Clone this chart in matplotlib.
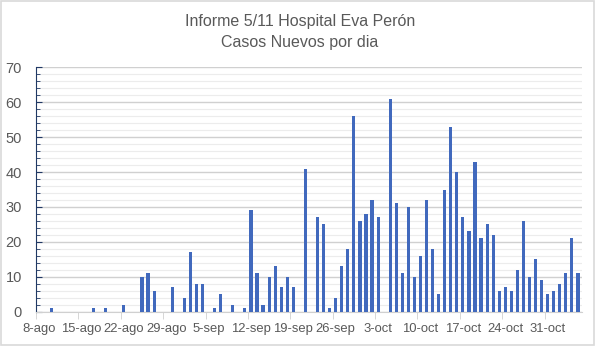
import datetime as dt
import matplotlib
matplotlib.use("Agg")
import matplotlib.pyplot as plt
from matplotlib.patches import Rectangle

# =========================================================
# DATA: daily new cases, 8-ago .. 5-nov
# =========================================================
START = dt.date(2020, 8, 8)
casos = [
    0, 0, 1, 0, 0, 0, 0, 0, 0, 1,
    0, 1, 0, 0, 2, 0, 0, 10, 11, 6,
    0, 0, 7, 0, 4, 17, 8, 8, 0, 1,
    5, 0, 2, 0, 1, 29, 11, 2, 10, 13,
    7, 10, 7, 0, 41, 0, 27, 25, 1, 4,
    13, 18, 56, 26, 28, 32, 27, 0, 61, 31,
    11, 30, 10, 16, 32, 18, 5, 35, 53, 40,
    27, 23, 43, 21, 25, 22, 6, 7, 6, 12,
    26, 10, 15, 9, 5, 6, 8, 11, 21, 11,
]
MESES = {8: "ago", 9: "sep", 10: "oct", 11: "nov"}
fechas = [START + dt.timedelta(days=i) for i in range(len(casos))]
etiquetas = [f"{d.day}-{MESES[d.month]}" for d in fechas]

TITULO = "Informe 5/11 Hospital Eva Perón\nCasos Nuevos por dia"

# =========================================================
# STYLE
# =========================================================
FONT = ["Liberation Sans Narrow", "Liberation Sans", "DejaVu Sans"]
plt.rcParams["font.family"] = FONT
TXT = "#595959"
BAR = "#4169bd"

fig = plt.figure(figsize=(5.96, 3.46), dpi=100)
ax = fig.add_axes([0.0604, 0.0991, 0.9161, 0.7064])

x = list(range(len(casos)))
ax.bar(x, casos, width=0.52, color=BAR, linewidth=0, zorder=3)

ax.set_xlim(-0.5, len(casos) - 0.33)
ax.set_ylim(0, 70)

# y axis: major grid every 10, minor every 2
ax.set_yticks(range(0, 71, 10))
ax.set_yticks(range(0, 71, 2), minor=True)
ax.grid(axis="y", which="major", color="#d0d0d0", linewidth=1.0, zorder=0)
ax.grid(axis="y", which="minor", color="#ececec", linewidth=0.8, zorder=0)
ax.tick_params(axis="y", which="both", direction="in", colors="#203864",
               labelcolor=TXT, labelsize=10.5, pad=10)
ax.tick_params(axis="y", which="major", length=4)
ax.tick_params(axis="y", which="minor", length=3)

# x axis: labels every 7 days, ticks on the category boundaries
semanal = x[::7]
ax.set_xticks(semanal)
ax.set_xticklabels([etiquetas[i] for i in semanal])
ax.set_xticks([i - 0.5 for i in semanal], minor=True)
ax.tick_params(axis="x", which="major", length=0, labelcolor=TXT,
               labelsize=9.4, pad=8)
ax.tick_params(axis="x", which="minor", length=5, color="#d0d0d0",
               direction="out")

for side in ["top", "right"]:
    ax.spines[side].set_visible(False)
ax.spines["left"].set_color("#203864")
ax.spines["bottom"].set_color("#d0d0d0")

fig.text(0.503, 0.908, TITULO, ha="center", va="center", color=TXT,
         fontsize=11.5, linespacing=1.5)

# chart frame
fig.patches.append(Rectangle((0.002, 0.003), 0.994, 0.994, transform=fig.transFigure,
                             fill=False, edgecolor="#d9d9d9", linewidth=1.2))

fig.savefig("out.png", dpi=100)
